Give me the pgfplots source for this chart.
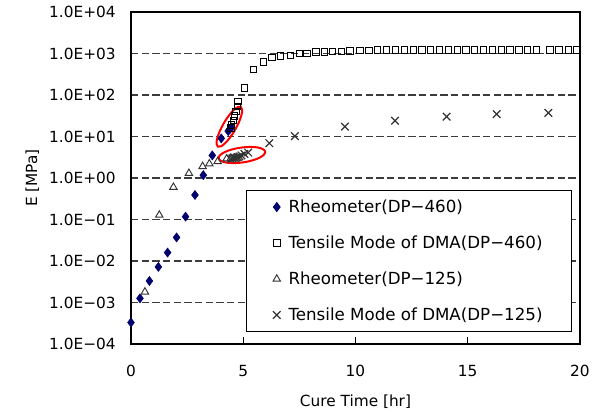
\documentclass[border=0pt]{standalone}
\usepackage{fontspec}
\setmainfont{DejaVu Sans}
\usepackage{pgfplots}
\usetikzlibrary{calc}
\pgfplotsset{compat=1.18}
\definecolor{navy}{RGB}{0,0,110}
\definecolor{gridgray}{RGB}{60,60,60}
\definecolor{markgray}{RGB}{50,50,50}
\begin{document}
\begin{tikzpicture}
\begin{axis}[name=ax, scale only axis, width=336.75pt, height=249pt,
  xmin=0, xmax=20, ymode=log, ymin=1e-4, ymax=1e4,
  xtick={0,5,10,15,20}, xticklabels={0,5,10,15,20},
  ytick={1e-4,1e-3,1e-2,1e-1,1,10,100,1000,1e4},
  yticklabels={1.0E−04,1.0E−03,1.0E−02,1.0E−01,1.0E+00,1.0E+01,1.0E+02,1.0E+03,1.0E+04},
  yminorticks=false,
  tick align=inside, xtick pos=bottom, ytick pos=left,
  ytick style={draw=none}, xtick style={black, line width=0.6pt},
  major tick length=5pt,
  ymajorgrids, grid style={dash pattern=on 5.5pt off 2.5pt, gridgray, line width=1pt},
  axis line style={black, line width=0.8pt},
  tick label style={font=\fontsize{11.5}{13}\selectfont},
  yticklabel style={xshift=-8pt},
  xticklabel style={yshift=-12.5pt},
  xlabel={Cure Time [hr]}, ylabel={E [MPa]},
  label style={font=\fontsize{11.5}{13}\selectfont},
  xlabel style={at={(axis description cs:0.5,0)}, anchor=center, yshift=-43pt},
  ylabel style={at={(axis description cs:0,0.5)}, anchor=center, yshift=74pt},
  legend style={at={(0.256,0.464)}, anchor=north west, draw=black, line width=0.6pt,
    font=\fontsize{12.5}{14}\selectfont, inner xsep=20pt, inner ysep=5pt, row sep=12pt},
  legend cell align=left,
  clip=false,
]
\draw[red, line width=1.5pt] (axis cs:4.38,17.2) ellipse[x radius=17.25pt, y radius=4.9pt, rotate=60];
\draw[red, line width=1.5pt] (axis cs:4.94,3.58) ellipse[x radius=17.6pt, y radius=5.6pt, rotate=8];

\addplot[only marks, mark=diamond*, mark size=3.4pt, color=navy, mark options={fill=navy}] coordinates {
(0,3.3e-4) (0.4,1.26e-3) (0.82,3.3e-3) (1.22,7.2e-3) (1.63,1.6e-2) (2.03,3.7e-2)
(2.43,0.117) (2.85,0.39) (3.22,1.17) (3.62,3.5) (4.02,9) (4.33,13.5) (4.40,15) (4.47,16.5)
};
\addlegendentry{\hspace{4pt}Rheometer(DP−460)}
\addplot[only marks, mark=square, mark size=2.4pt, color=black, mark options={line width=0.7pt, fill=white}] coordinates {
(4.45,16) (4.48,19) (4.56,24) (4.62,31) (4.68,40) (4.74,53) (4.77,69) (5.06,148)
(5.46,415) (5.9,630) (6.28,810) (6.66,870) (7.1,910) (7.5,1010) (7.84,1000) (8.24,1100)
(8.61,1100) (8.97,1120) (9.37,1130) (9.75,1150)
(10.2,1200) (10.6,1200) (10.99,1210) (11.39,1210) (11.77,1210) (12.17,1210) (12.57,1210)
(12.96,1210) (13.35,1210) (13.74,1210) (14.14,1210) (14.54,1210) (14.92,1210) (15.31,1210)
(15.69,1210) (16.1,1210) (16.5,1210) (16.88,1210) (17.28,1210) (17.67,1210) (18.07,1210)
(18.66,1210) (19.06,1210) (19.48,1210) (19.85,1210)
};
\addlegendentry{\hspace{4pt}Tensile Mode of DMA(DP−460)}
\addplot[only marks, mark=triangle, mark size=3.2pt, color=markgray, mark options={line width=0.7pt, fill=white}] coordinates {
(0.62,1.8e-3) (1.26,0.128) (1.89,0.6) (2.58,1.3) (3.19,1.9) (3.49,2.2) (3.86,2.5) (4.26,2.9) (4.45,3.0)
};
\addlegendentry{\hspace{4pt}Rheometer(DP−125)}
\addplot[only marks, mark=x, mark size=4pt, color=markgray, mark options={line width=0.9pt}] coordinates {
(4.45,2.9) (4.52,3.0) (4.58,3.1) (4.64,3.0) (4.7,3.1) (4.76,3.2) (4.83,3.3) (4.92,3.5) (5.05,3.8) (5.22,4.1)
(6.16,6.9) (7.3,10.2) (9.53,17.3) (11.76,24) (14.06,30) (16.29,34.6) (18.59,37)
};
\addlegendentry{\hspace{4pt}Tensile Mode of DMA(DP−125)}
\end{axis}
\pgfresetboundingbox
\path[use as bounding box] ($(ax.south west)+(-98.25pt,-51.75pt)$) rectangle ($(ax.north east)+(23.25pt,9pt)$);
\end{tikzpicture}
\end{document}
